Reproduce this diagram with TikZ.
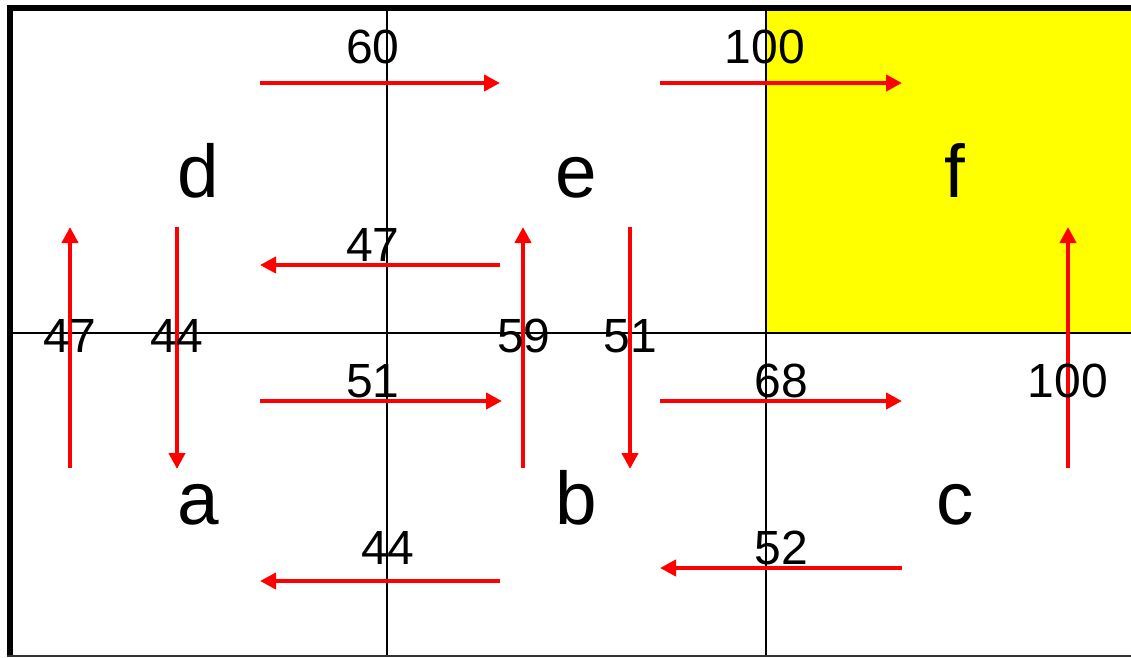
\documentclass[tikz,border=0pt]{standalone}
\usepackage{fontspec}
\setmainfont{Liberation Sans}
\usetikzlibrary{arrows.meta}
\definecolor{pureyellow}{RGB}{255,255,0}
\definecolor{purered}{RGB}{255,0,0}
\begin{document}
\begin{tikzpicture}[x=0.75pt,y=-0.75pt,
  grid/.style={line width=1.5pt,black},
  flow/.style={purered,line width=3pt,-{Triangle[length=12pt,width=12pt]}},
  letter/.style={anchor=base,inner sep=0pt,font=\fontsize{56}{56}\selectfont},
  num/.style={anchor=base,inner sep=0pt,font=\fontsize{36}{36}\selectfont}]
\useasboundingbox (0,0) rectangle (1131,657);
% yellow cell
\fill[pureyellow] (766,11) rectangle (1131,333);
% grid
\draw[grid] (387,11) -- (387,657);
\draw[grid] (766,11) -- (766,657);
\draw[grid] (13,333) -- (1131,333);
% frame
\draw[line width=4.5pt] (7,8) -- (1131,8);
\draw[line width=4.5pt] (10,5) -- (10,657);
\draw[line width=1.5pt,black!80] (7,655.5) -- (1131,655.5);
% letters
\node[letter] (d) at (198,197) {d};
\node[letter] (e) at (576,197) {e};
\node[letter] (f) at (955,197) {f};
\node[letter] (a) at (198,524) {a};
\node[letter] (b) at (576,524) {b};
\node[letter] (c) at (955,524) {c};
% arrow end points
\coordinate (h1s) at (260,83);  \coordinate (h1e) at (500,83);
\coordinate (h2s) at (660,83);  \coordinate (h2e) at (902,83);
\coordinate (h3s) at (500,265); \coordinate (h3e) at (260,265);
\coordinate (h4s) at (260,401); \coordinate (h4e) at (502,401);
\coordinate (h5s) at (660,401); \coordinate (h5e) at (902,401);
\coordinate (h6s) at (500,581); \coordinate (h6e) at (260,581);
\coordinate (h7s) at (902,568); \coordinate (h7e) at (660,568);
\coordinate (v1s) at (70,468);  \coordinate (v1e) at (70,227);
\coordinate (v2s) at (177,227); \coordinate (v2e) at (177,469);
\coordinate (v3s) at (523,468); \coordinate (v3e) at (523,227);
\coordinate (v4s) at (630,227); \coordinate (v4e) at (630,469);
\coordinate (v5s) at (1068,468);\coordinate (v5e) at (1068,227);
% arrows
\foreach \n in {h1,h2,h3,h4,h5,h6,h7,v1,v2,v3,v4,v5}
  \draw[flow] (\n s) -- (\n e);
% numbers
\node[num] (n60) at (373,63) {60};
\node[num] (n100a) at (765,63) {100};
\node[num] (n47a) at (373,261) {47};
\node[num] (n51a) at (373,397) {51};
\node[num] (n68) at (781,397) {68};
\node[num] (n44a) at (388,564) {44};
\node[num] (n52) at (781,564) {52};
\node[num] (n47b) at (70,352) {47};
\node[num] (n44b) at (177,352) {44};
\node[num] (n59) at (524,352) {59};
\node[num] (n51b) at (630,352) {51};
\node[num] (n100b) at (1068,397) {100};
\end{tikzpicture}
\end{document}
